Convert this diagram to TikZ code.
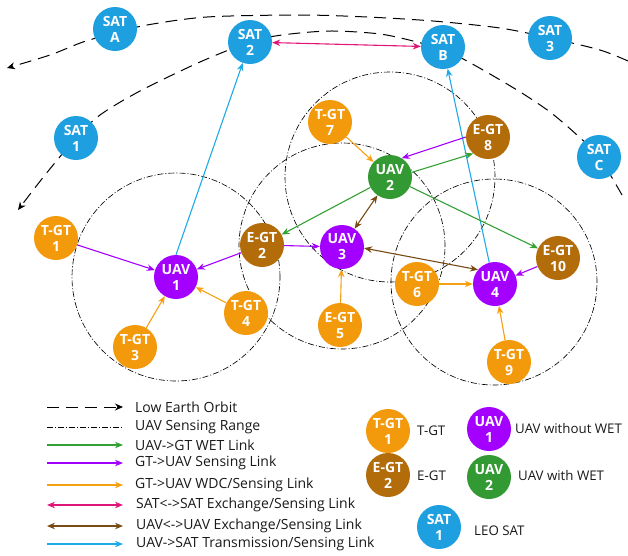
\documentclass[tikz,border=0pt]{standalone}
\usepackage{fontspec}
\setmainfont{Open Sans}
\usetikzlibrary{arrows.meta}
\definecolor{satcol}{HTML}{1EA0E0}
\definecolor{tgtcol}{HTML}{F2990C}
\definecolor{egtcol}{HTML}{B26C0A}
\definecolor{uavp}{HTML}{A300FF}
\definecolor{uavg}{HTML}{339933}
\definecolor{lgreen}{HTML}{33A033}
\definecolor{lpurple}{HTML}{A300FF}
\definecolor{lorange}{HTML}{F5A014}
\definecolor{lmag}{HTML}{E0157A}
\definecolor{lbrown}{HTML}{7A4A14}
\definecolor{lblue}{HTML}{1EAAE6}
\tikzset{
  ent/.style={circle, minimum size=44pt, inner sep=0pt, text=white, align=center,
    font=\bfseries\fontsize{14}{16}\selectfont},
  sat/.style={ent, fill=satcol},
  tgt/.style={ent, fill=tgtcol},
  egt/.style={ent, fill=egtcol},
  uavpur/.style={ent, fill=uavp},
  uavgrn/.style={ent, fill=uavg},
  orbit/.style={line width=1pt, dash pattern=on 12pt off 7pt, -{Stealth[length=8pt,width=7pt]}},
  sense/.style={line width=0.65pt, dash pattern=on 6pt off 2pt on 1pt off 2pt},
  lk/.style={line width=1.1pt, -{Stealth[length=8pt,width=6.5pt]}},
  wet/.style={lk, draw=lgreen},
  sens/.style={lk, draw=lpurple},
  wdc/.style={lk, draw=lorange},
  sx/.style={line width=1.1pt, {Stealth[length=8pt,width=6.5pt]}-{Stealth[length=8pt,width=6.5pt]}, draw=lmag},
  ux/.style={line width=1.1pt, {Stealth[length=8pt,width=6.5pt]}-{Stealth[length=8pt,width=6.5pt]}, draw=lbrown},
  tx/.style={lk, draw=lblue},
  legtext/.style={anchor=west, inner sep=0pt, font=\fontsize{14}{16}\selectfont, text=black!90},
  keytext/.style={legtext, font=\fontsize{13.3}{15}\selectfont}
}
\begin{document}
\begin{tikzpicture}[x=1pt,y=-1pt]
\useasboundingbox (0,0) rectangle (628,555);
% orbits
\draw[orbit] plot[smooth] coordinates {(628,61) (600,50) (550,38) (500,28) (433,21) (367,17) (300,15) (207,17) (147,25) (115,33) (83,42) (50,55) (7,68)};
\draw[orbit] plot[smooth] coordinates {(622,195) (599,157) (577,135) (550,112) (517,90) (467,61) (443,50) (417,42) (380,34) (330,31) (282,35) (250,42) (200,62) (140,91) (100,115) (76,138) (45,175) (18,210)};
% sensing ranges
\draw[sense] (176,277) circle[radius=104pt];
\draw[sense] (390,177) circle[radius=105pt];
\draw[sense] (342,246) circle[radius=103pt];
\draw[sense] (494,282) circle[radius=103pt];
% nodes
\node[sat] (sata) at (115,29) {SAT\\A};
\node[sat] (sat2) at (250,42) {SAT\\2};
\node[sat] (sat1) at (76,138) {SAT\\1};
\node[sat] (satb) at (443,47) {SAT\\B};
\node[sat] (sat3) at (550,38) {SAT\\3};
\node[sat] (satc) at (599,157) {SAT\\C};
\node[tgt] (tgt7) at (330,122) {T-GT\\7};
\node[egt] (egt8) at (488,137) {E-GT\\8};
\node[uavgrn] (uav2) at (390,177) {UAV\\2};
\node[tgt] (tgt1) at (56,238) {T-GT\\1};
\node[uavpur] (uav1) at (176,277) {UAV\\1};
\node[egt] (egt2) at (262,245) {E-GT\\2};
\node[tgt] (tgt4) at (246,313) {T-GT\\4};
\node[tgt] (tgt3) at (135,347) {T-GT\\3};
\node[uavpur] (uav3) at (342,247) {UAV\\3};
\node[egt] (egt10) at (558,258) {E-GT\\10};
\node[uavpur] (uav4) at (495,284) {UAV\\4};
\node[tgt] (tgt6) at (417,284) {T-GT\\6};
\node[tgt] (egt5) at (340,325) {E-GT\\5};
\node[tgt] (tgt9) at (509,362) {T-GT\\9};
% connectors
\draw[tx] (uav1.north) -- (sat2);
\draw[tx] (uav4.105) -- (satb);
\draw[sx] (sat2) -- (satb);
\draw[wdc] (tgt7) -- (uav2);
\draw[sens] (egt8.180) -- (uav2.58);
\draw[wet] (uav2.12) -- (egt8.228);
\draw[wet] (uav2) -- (egt2);
\draw[wet] (uav2) -- (egt10);
\draw[ux] (uav2) -- (uav3);
\draw[ux] (uav3.-3) -- (uav4.140);
\draw[sens] (egt2) -- (uav3);
\draw[sens] (egt2) -- (uav1);
\draw[sens] (tgt1) -- (uav1);
\draw[wdc] (tgt3) -- (uav1);
\draw[wdc] (tgt4) -- (uav1);
\draw[wdc] (egt5) -- (uav3);
\draw[wdc] (tgt6) -- (uav4);
\draw[sens] (egt10) -- (uav4);
\draw[wdc] (tgt9) -- (uav4);
% legend lines
\coordinate (l1a) at (47,407); \coordinate (l1b) at (123,407);
\coordinate (l2a) at (47,427); \coordinate (l2b) at (123,427);
\coordinate (l3a) at (47,445); \coordinate (l3b) at (123,445);
\coordinate (l4a) at (47,463); \coordinate (l4b) at (123,463);
\coordinate (l5a) at (47,485); \coordinate (l5b) at (123,485);
\coordinate (l6a) at (47,505); \coordinate (l6b) at (123,505);
\coordinate (l7a) at (47,526); \coordinate (l7b) at (123,526);
\coordinate (l8a) at (47,544); \coordinate (l8b) at (123,544);
\draw[orbit] (l1a) -- (l1b);
\draw[sense] (l2a) -- (l2b);
\draw[wet] (l3a) -- (l3b);
\draw[sens] (l4a) -- (l4b);
\draw[wdc] (l5a) -- (l5b);
\draw[sx] (l6a) -- (l6b);
\draw[ux] (l7a) -- (l7b);
\draw[tx] (l8a) -- (l8b);
\node[legtext] (t1) at (135,407) {Low Earth Orbit};
\node[legtext] (t2) at (135,427) {UAV Sensing Range};
\node[legtext] (t3) at (135,445) {UAV->GT WET Link};
\node[legtext] (t4) at (135,463) {GT->UAV Sensing Link};
\node[legtext] (t5) at (135,485) {GT->UAV WDC/Sensing Link};
\node[legtext] (t6) at (136,505) {SAT<->SAT Exchange/Sensing Link};
\node[legtext] (t7) at (136,526) {UAV<->UAV Exchange/Sensing Link};
\node[legtext] (t8) at (136,544) {UAV->SAT Transmission/Sensing Link};
% legend symbols
\node[tgt] (ktgt) at (388,431) {T-GT\\1};
\node[keytext] (ktgtt) at (417,431) {T-GT};
\node[uavpur] (kuavp) at (489,429) {UAV\\1};
\node[keytext] (kuavpt) at (515,429) {UAV without WET};
\node[egt] (kegt) at (388,475) {E-GT\\2};
\node[keytext] (kegtt) at (417,476) {E-GT};
\node[uavgrn] (kuavg) at (489,477) {UAV\\2};
\node[keytext] (kuavgt) at (518,476) {UAV with WET};
\node[sat] (ksat) at (439,527) {SAT\\1};
\node[keytext] (ksatt) at (474,531) {LEO SAT};
\end{tikzpicture}
\end{document}
